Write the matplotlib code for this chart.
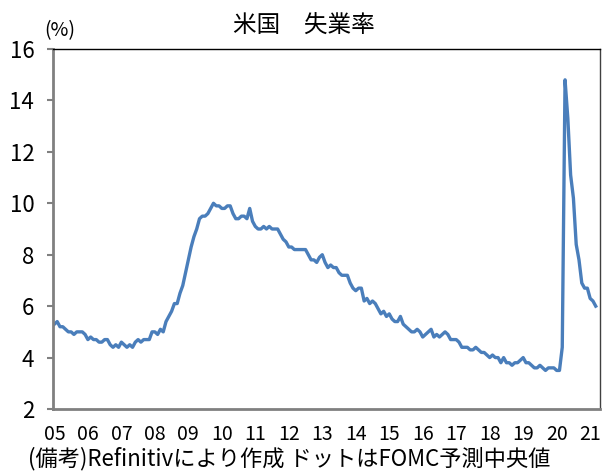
import matplotlib as mpl
mpl.use('Agg')
import matplotlib.pyplot as plt
import numpy as np

plt.rcParams['font.family'] = ['Noto Sans CJK JP', 'DejaVu Sans']

# US unemployment rate, monthly, Jan 2005 - Mar 2021 (%)
rate_2005 = [5.3, 5.4, 5.2, 5.2, 5.1, 5.0, 5.0, 4.9, 5.0, 5.0, 5.0, 4.9]
rate_2006 = [4.7, 4.8, 4.7, 4.7, 4.6, 4.6, 4.7, 4.7, 4.5, 4.4, 4.5, 4.4]
rate_2007 = [4.6, 4.5, 4.4, 4.5, 4.4, 4.6, 4.7, 4.6, 4.7, 4.7, 4.7, 5.0]
rate_2008 = [5.0, 4.9, 5.1, 5.0, 5.4, 5.6, 5.8, 6.1, 6.1, 6.5, 6.8, 7.3]
rate_2009 = [7.8, 8.3, 8.7, 9.0, 9.4, 9.5, 9.5, 9.6, 9.8, 10.0, 9.9, 9.9]
rate_2010 = [9.8, 9.8, 9.9, 9.9, 9.6, 9.4, 9.4, 9.5, 9.5, 9.4, 9.8, 9.3]
rate_2011 = [9.1, 9.0, 9.0, 9.1, 9.0, 9.1, 9.0, 9.0, 9.0, 8.8, 8.6, 8.5]
rate_2012 = [8.3, 8.3, 8.2, 8.2, 8.2, 8.2, 8.2, 8.0, 7.8, 7.8, 7.7, 7.9]
rate_2013 = [8.0, 7.7, 7.5, 7.6, 7.5, 7.5, 7.3, 7.2, 7.2, 7.2, 6.9, 6.7]
rate_2014 = [6.6, 6.7, 6.7, 6.2, 6.3, 6.1, 6.2, 6.1, 5.9, 5.7, 5.8, 5.6]
rate_2015 = [5.7, 5.5, 5.4, 5.4, 5.6, 5.3, 5.2, 5.1, 5.0, 5.0, 5.1, 5.0]
rate_2016 = [4.8, 4.9, 5.0, 5.1, 4.8, 4.9, 4.8, 4.9, 5.0, 4.9, 4.7, 4.7]
rate_2017 = [4.7, 4.6, 4.4, 4.4, 4.4, 4.3, 4.3, 4.4, 4.3, 4.2, 4.2, 4.1]
rate_2018 = [4.0, 4.1, 4.0, 4.0, 3.8, 4.0, 3.8, 3.8, 3.7, 3.8, 3.8, 3.9]
rate_2019 = [4.0, 3.8, 3.8, 3.7, 3.6, 3.6, 3.7, 3.6, 3.5, 3.6, 3.6, 3.6]
rate_2020 = [3.5, 3.5, 4.4, 14.8, 13.3, 11.1, 10.2, 8.4, 7.8, 6.9, 6.7, 6.7]
rate_2021 = [6.3, 6.2, 6.0]

year_labels = ['05', '06', '07', '08', '09', '10', '11', '12', '13', '14',
               '15', '16', '17', '18', '19', '20', '21']

rate = (rate_2005 + rate_2006 + rate_2007 + rate_2008 + rate_2009 + rate_2010
        + rate_2011 + rate_2012 + rate_2013 + rate_2014 + rate_2015 + rate_2016
        + rate_2017 + rate_2018 + rate_2019 + rate_2020 + rate_2021)
months = np.arange(len(rate))

fig = plt.figure(figsize=(6.03, 4.71), dpi=100)
ax = fig.add_axes([0.0879, 0.1316, 0.907, 0.7644])

ax.plot(months, rate, color='#4a7ebb', linewidth=2.4)

ax.set_xlim(-0.5, 195.5)
ax.set_ylim(2, 16)
ax.set_yticks(np.arange(2, 17, 2))
ax.set_xticks(np.arange(len(year_labels)) * 12)
ax.set_xticklabels(year_labels)
ax.tick_params(axis='x', length=0, labelsize=14, pad=11)
ax.tick_params(axis='y', length=4.5, width=1.5, color='#808080',
               labelsize=16, pad=9)

for side in ['left', 'bottom']:
    ax.spines[side].set_color('#808080')
    ax.spines[side].set_linewidth(2)
ax.spines['top'].set_color('black')
ax.spines['top'].set_linewidth(1)
ax.spines['right'].set_color('#404040')
ax.spines['right'].set_linewidth(1)

fig.text(0.504, 0.945, '米国　失業率', ha='center', va='center', fontsize=17)
fig.text(0.0995, 0.936, '(%)', ha='center', va='center', fontsize=14)
fig.text(0.046, 0.0255, '(備考)Refinitivにより作成 ドットはFOMC予測中央値',
         ha='left', va='center', fontsize=16)

plt.savefig('out.png', dpi=100)
